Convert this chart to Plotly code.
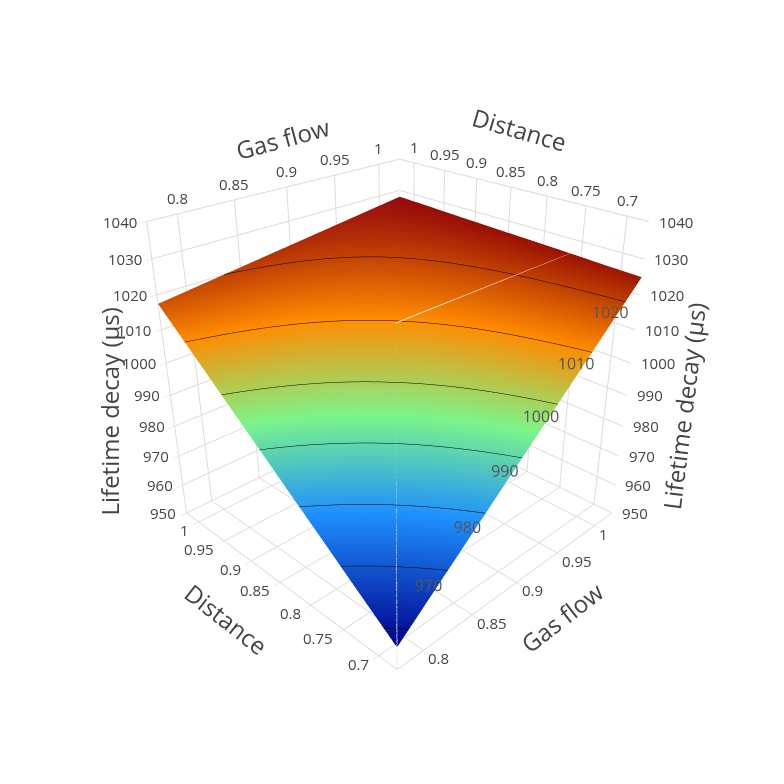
import numpy as np
import plotly.graph_objects as go

gas_flow = [0.775, 0.825, 0.875, 0.925, 0.975, 1.025]
distance = [0.675, 0.725, 0.775, 0.825, 0.875, 0.925, 0.975, 1.025]
# lifetime decay (µs), rows = distance, columns = gas flow
lifetime = [
    [957.0, 970.6, 984.2, 997.8, 1011.4, 1025.0],
    [965.6, 977.6, 989.6, 1001.5, 1013.5, 1025.4],
    [974.3, 984.6, 994.9, 1005.2, 1015.5, 1025.9],
    [982.9, 991.6, 1000.3, 1008.9, 1017.6, 1026.3],
    [991.6, 998.6, 1005.6, 1012.7, 1019.7, 1026.7],
    [1000.2, 1005.6, 1011.0, 1016.4, 1021.8, 1027.1],
    [1008.9, 1012.6, 1016.3, 1020.1, 1023.8, 1027.6],
    [1017.5, 1019.6, 1021.7, 1023.8, 1025.9, 1028.0],
]
contour_levels = [970, 980, 990, 1000, 1010, 1020]
z_ticks = [950, 960, 970, 980, 990, 1000, 1010, 1020, 1030, 1040]
gas_ticks = [0.8, 0.85, 0.9, 0.95, 1]
dist_ticks = [0.7, 0.75, 0.8, 0.85, 0.9, 0.95, 1]
z_range = [950, 1040]

colorscale = [
    [0.0, "#00008B"],
    [0.3, "#1E90FF"],
    [0.53, "#7CF58A"],
    [0.75, "#FF8C00"],
    [1.0, "#8B0000"],
]

FONT = "Open Sans"
TXT = "#444"
GRID = "#dcdcdc"
TICK_SIZE = 15
TITLE_SIZE = 24

xr = [gas_flow[0], gas_flow[-1]]
yr = [distance[0], distance[-1]]
x_mid = (gas_ticks[0] + gas_ticks[-1]) / 2
y_mid = (dist_ticks[0] + dist_ticks[-1]) / 2
z_mid = (z_range[0] + z_range[1]) / 2

fig = go.Figure()
fig.add_trace(go.Surface(
    x=gas_flow, y=distance, z=lifetime,
    colorscale=colorscale, showscale=False,
    contours=dict(z=dict(show=True, start=960, end=1030, size=10,
                         color="black", width=3)),
    hoverinfo="skip",
))

# front box edges drawn over the surface
edge_col = "#e8e8e8"
front_edges = [
    ([xr[0], xr[0]], [yr[0], yr[0]], [z_range[0], z_range[1]]),
    ([xr[0], xr[1]], [yr[0], yr[0]], [z_range[1], z_range[1]]),
    ([xr[0], xr[0]], [yr[0], yr[1]], [z_range[1], z_range[1]]),
]
for ex, ey, ez in front_edges:
    fig.add_trace(go.Scatter3d(
        x=ex, y=ey, z=ez, mode="lines", line=dict(color=edge_col, width=2),
        hoverinfo="skip", showlegend=False))

# contour labels near the front-right edge, floating just above the surface
zarr = np.array(lifetime)
lab_d = 0.678
w = (lab_d - distance[0]) / (distance[1] - distance[0])
row = zarr[0] + (zarr[1] - zarr[0]) * w
lab_off = 4.0
lab_lift = 2.5
lab_x = [float(np.interp(L - lab_off, row, gas_flow)) for L in contour_levels]
fig.add_trace(go.Scatter3d(
    x=lab_x, y=[lab_d] * len(contour_levels),
    z=[L - lab_off + lab_lift for L in contour_levels],
    mode="text", text=[str(L) for L in contour_levels], textposition="middle center",
    textfont=dict(family=FONT, size=16, color="#555"),
    hoverinfo="skip", showlegend=False,
))

# all tick labels and titles as scene annotations (both sides of the box)
ann = []
tf = dict(family=FONT, size=TICK_SIZE, color=TXT)
ttf = dict(family=FONT, size=TITLE_SIZE, color=TXT)
# top edges
for g in gas_ticks:
    ann.append(dict(x=g, y=yr[1], z=z_range[1], text=str(g), showarrow=False,
                    xanchor="center", yanchor="bottom", yshift=4, font=tf))
for d in dist_ticks:
    ann.append(dict(x=xr[1], y=d, z=z_range[1], text=str(d), showarrow=False,
                    xanchor="center", yanchor="bottom", yshift=4, font=tf))
# right vertical edge
for zt in z_ticks:
    ann.append(dict(x=xr[1], y=yr[0], z=zt, text=str(zt), showarrow=False,
                    xanchor="left", yanchor="middle", xshift=8, font=tf))
# left vertical edge
for zt in z_ticks:
    ann.append(dict(x=xr[0], y=yr[1], z=zt, text=str(zt), showarrow=False,
                    xanchor="right", yanchor="middle", xshift=-8, font=tf))
# bottom-right edge (gas flow)
for g in gas_ticks:
    ann.append(dict(x=g, y=yr[0], z=z_range[0], text=str(g), showarrow=False,
                    xanchor="left", yanchor="middle", xshift=3, yshift=-8, font=tf))
# bottom-left edge (distance)
for d in dist_ticks:
    ann.append(dict(x=xr[0], y=d, z=z_range[0], text=str(d), showarrow=False,
                    xanchor="right", yanchor="middle", xshift=-8, yshift=-8, font=tf))

ann.append(dict(x=x_mid, y=yr[1], z=z_range[1], text="Gas flow", showarrow=False,
                textangle=-15, xshift=-4, yshift=48, font=ttf))
ann.append(dict(x=xr[1], y=y_mid, z=z_range[1], text="Distance", showarrow=False,
                textangle=16, xshift=9, yshift=57, font=ttf))
ann.append(dict(x=xr[1], y=yr[0], z=z_mid, text="Lifetime decay (µs)", showarrow=False,
                textangle=-83, xshift=55, yshift=-27, font=ttf))
ann.append(dict(x=xr[0], y=yr[1], z=z_mid, text="Lifetime decay (µs)", showarrow=False,
                textangle=-90, xshift=-59, yshift=-32, font=ttf))
ann.append(dict(x=x_mid, y=yr[0], z=z_range[0], text="Gas flow", showarrow=False,
                textangle=-38, xshift=45, yshift=-35, font=ttf))
ann.append(dict(x=xr[0], y=y_mid, z=z_range[0], text="Distance", showarrow=False,
                textangle=38, xshift=-53, yshift=-37, font=ttf))

axis_common = dict(
    title=dict(text=""),
    showticklabels=False,
    showgrid=True, gridcolor=GRID, gridwidth=2,
    showline=True, linecolor=GRID, linewidth=2,
    ticks="outside", tickcolor=GRID, ticklen=6,
    showbackground=False, zeroline=False,
    showspikes=False,
)

fig.update_layout(
    width=784, height=784,
    paper_bgcolor="white",
    font=dict(family=FONT, color=TXT),
    margin=dict(l=14, r=0, t=0, b=19),
    showlegend=False,
    scene=dict(
        xaxis=dict(range=xr, tickvals=gas_ticks, **axis_common),
        yaxis=dict(range=yr, tickvals=dist_ticks, **axis_common),
        zaxis=dict(range=z_range, tickvals=z_ticks, **axis_common),
        aspectmode="cube",
        camera=dict(eye=dict(x=-1.763, y=-1.800, z=1.301),
                    center=dict(x=0.007, y=-0.0298, z=-0.0304),
                    up=dict(x=-0.0141, y=0.0141, z=1)),
        annotations=ann,
    ),
)

fig.write_html("out.html")
